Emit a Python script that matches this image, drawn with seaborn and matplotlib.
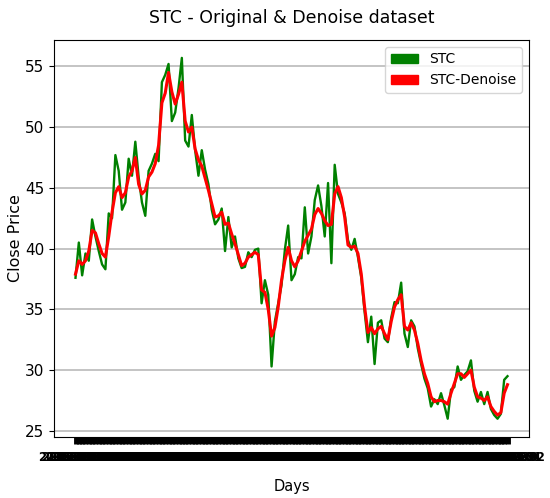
import seaborn as sns
import matplotlib.pyplot as plt
import matplotlib.patches as mpatches
import pandas as pd

OUTPUT_FILE_NAME = "out.png"
START_DATE = "2015-01-01"

# close price (original, noisy)
stc_close = [
    37.6, 40.5, 37.8, 39.6, 39.0, 42.4, 41.0, 39.8, 38.7, 38.3,
    42.9, 42.5, 47.7, 46.4, 43.2, 43.8, 47.4, 46.0, 48.8, 45.9,
    43.8, 42.7, 46.4, 47.0, 47.8, 47.2, 53.7, 54.3, 55.2, 50.5,
    51.2, 53.2, 55.7, 48.9, 48.4, 51.0, 48.1, 46.0, 48.1, 46.5,
    45.3, 43.2, 42.0, 42.4, 43.3, 39.8,
    42.6, 40.1, 41.0, 39.2, 38.4, 38.5, 39.7, 39.3, 39.9, 40.0,
    35.5, 37.4, 36.2, 30.3, 34.0, 35.5, 37.0, 39.9, 41.9, 37.4,
    37.9, 39.3, 39.2, 43.4, 39.6, 41.0, 44.0, 45.2, 43.5, 41.0,
    45.4, 38.8, 46.9, 44.5, 43.8, 42.9, 40.7, 39.9, 40.8, 39.3,
    37.6, 34.8, 32.3, 34.4, 30.5,
    33.9, 34.1, 32.6, 32.3, 34.3, 35.6, 35.5, 37.2, 33.0, 31.9,
    34.1, 33.6, 31.8, 30.5, 29.3, 28.5, 27.0, 27.6, 27.2, 28.1,
    27.1, 26.0, 28.4, 28.6, 30.3, 29.2, 29.6, 29.9, 30.8, 28.3,
    27.4, 28.2, 27.2, 28.2, 26.8, 26.3, 26.0, 26.4, 29.2, 29.5,
]

# denoised close price
stc_denoise = [
    37.9, 39.0, 38.7, 39.0, 39.8, 41.5, 41.3, 40.4, 39.6, 39.3,
    41.0, 43.0, 44.6, 45.1, 44.2, 44.6, 45.9, 46.4, 47.5, 45.3,
    44.5, 44.8, 45.9, 46.3, 47.0, 48.5, 52.0, 52.8, 54.5, 52.9,
    51.9, 52.7, 53.7, 50.5, 49.6, 50.0, 48.2, 47.3, 46.8, 45.8,
    44.8, 43.7, 42.6, 42.7, 43.0, 42.0,
    42.1, 41.2, 40.4, 39.5, 38.6, 38.8, 39.3, 39.5, 39.7, 39.5,
    36.6, 36.4, 35.0, 32.8, 33.5, 35.2, 37.4, 39.0, 40.1, 39.0,
    38.5, 39.0, 39.8, 40.6, 41.1, 41.6, 42.8, 43.3, 42.9, 42.3,
    41.9, 42.0, 44.5, 45.1, 44.2, 42.6, 40.3, 40.1, 40.2, 39.6,
    37.9, 35.2, 33.1, 33.5, 33.0,
    33.4, 33.6, 33.0, 32.5, 34.0, 35.2, 35.8, 36.2, 33.6, 33.3,
    33.9, 33.3, 32.2, 30.8, 29.7, 28.9, 27.8, 27.4, 27.5, 27.5,
    27.4, 27.2, 28.1, 28.9, 29.7, 29.7, 29.4, 29.7, 30.0, 28.6,
    27.8, 27.7, 27.5, 27.8, 27.0, 26.6, 26.3, 26.5, 28.1, 28.8,
]

days = [d.strftime("%Y-%m-%d") for d in pd.bdate_range(START_DATE, periods=len(stc_close))]

if __name__ == "__main__":
    df = pd.DataFrame({"Date": days, "Close": stc_close, "Denoise": stc_denoise})

    fig = plt.figure(figsize=(5.5, 4.98), dpi=100)
    ax = fig.add_subplot(111)
    fig.subplots_adjust(left=0.098, right=0.962, top=0.92, bottom=0.123)

    sns.lineplot(x="Date", y="Close", data=df, color="green", linewidth=1.7, ax=ax, sort=False)
    sns.lineplot(x="Date", y="Denoise", data=df, color="red", linewidth=2.2, ax=ax, sort=False)

    ax.grid(axis="y", color="#c4c4c4", linewidth=1.4)
    ax.set_axisbelow(True)
    ax.tick_params(axis="x", width=3.5, length=5, labelsize=8.5, pad=5)
    ax.tick_params(axis="y", labelsize=11)
    for lbl in ax.get_xticklabels():
        lbl.set_fontweight("bold")

    green_patch = mpatches.Patch(color="green", label="STC")
    red_patch = mpatches.Patch(color="red", label="STC-Denoise")
    ax.legend(handles=[green_patch, red_patch], loc="upper right", fontsize=10)

    ax.set_title("STC - Original & Denoise dataset", fontsize=12.5, pad=12)
    ax.set_ylabel("Close Price", fontsize=11.5, labelpad=1)
    ax.set_xlabel("Days", fontsize=10.5, labelpad=11)

    plt.savefig(OUTPUT_FILE_NAME, dpi=100)
